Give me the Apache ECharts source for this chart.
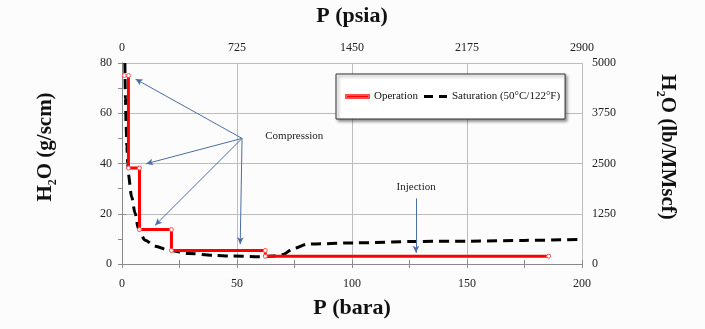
<!DOCTYPE html>
<html>
<head>
<meta charset="utf-8">
<script src="https://cdn.jsdelivr.net/npm/echarts@6/dist/echarts.min.js"></script>
<style>html,body{margin:0;padding:0;background:#fcfcfc;}#c{width:705px;height:329px;}</style>
</head>
<body>
<div id="c"></div>
<script>
// Operation (step profile)
const opP   = [1, 2.8, 2.8, 7.6, 7.6, 21.5, 21.5, 62.3, 62.3, 185.5];
const opH2O = [75, 75, 38.2, 38.2, 13.7, 13.7, 5.4, 5.4, 3.1, 3.1];
// Saturation curve (50°C/122°F)
const satP   = [1.25, 1.5, 1.8, 2.1, 2.5, 2.7, 4.2, 5.7, 7.1, 10, 14.4, 20.2, 28.9, 40.5, 47, 61.6, 66, 70, 74.6, 80.5, 100.7, 128.4, 151.6, 175, 200];
const satH2O = [80, 66, 55, 47, 40, 36, 26.7, 20.2, 14.1, 9.5, 7.1, 5.5, 4.2, 3.4, 3.2, 2.9, 3.2, 3.8, 6.2, 7.9, 8.4, 9.0, 9.1, 9.4, 9.8];
// Axis ticks
const barTicks = {min: 0, max: 200, interval: 50};
const psiaTicks = {min: 0, max: 2900, interval: 725};
const gTicks = {min: 0, max: 80, interval: 20};
const lbTicks = {min: 0, max: 5000, interval: 1250};
// Annotations
const compressionFrom = [52.2, 50];
const compressionTo = [[5.9, 73.6], [10.5, 39.9], [14.4, 15.4], [51.4, 7.9]];
const injectionFrom = [127.8, 26.1];
const injectionTo = [127.8, 4.5];
const annotationTexts = [{name: 'Compression', coord: [74.9, 50.8]}, {name: 'Injection', coord: [127.9, 30.6]}];

const serif = '"Liberation Serif", "DejaVu Serif", serif';
const axisLineStyle = {lineStyle: {color: '#8a8a8a', width: 1}};
const labelStyle = {fontFamily: serif, fontSize: 12, color: '#222', formatter: v => String(v)};
const gridLine = {show: true, lineStyle: {color: '#bdbdbd', width: 1}};
const tickStyle = {show: true, length: 4, lineStyle: {color: '#8a8a8a'}};
const minorTickStyle = {show: true, splitNumber: 2, length: 4, lineStyle: {color: '#8a8a8a'}};

const chart = echarts.init(document.getElementById('c'));
const arrowData = compressionTo.map(t => [{coord: compressionFrom}, {coord: t}]);
arrowData.push([{coord: injectionFrom}, {coord: injectionTo}]);

const titleRich = {
  m: {fontFamily: serif, fontSize: 21, fontWeight: 'bold', fill: '#111', lineHeight: 24, verticalAlign: 'top'},
  s: {fontFamily: serif, fontSize: 12, fontWeight: 'bold', fill: '#111', lineHeight: 12, verticalAlign: 'bottom'}
};

chart.setOption({
  animation: false,
  backgroundColor: '#fcfcfc',
  grid: {left: 122, right: 123, top: 62, bottom: 65},
  legend: {
    left: 336, top: 74,
    padding: [17, 5, 17, 9],
    itemGap: 6, itemWidth: 23, itemHeight: 3,
    backgroundColor: '#fff', borderColor: '#333', borderWidth: 1,
    shadowColor: 'rgba(0,0,0,0.45)', shadowBlur: 3, shadowOffsetX: 2, shadowOffsetY: 2,
    textStyle: {fontFamily: serif, fontSize: 11, color: '#111'},
    data: [
      {name: 'Operation', icon: 'rect', itemStyle: {color: '#ff0000'}},
      {name: 'Saturation (50°C/122°F)', icon: 'path://M0,0h9v3h-9z M15,0h8v3h-8z', itemStyle: {color: '#000'}}
    ]
  },
  xAxis: [
    {type: 'value', position: 'bottom', min: barTicks.min, max: barTicks.max, interval: barTicks.interval,
     name: 'P (bara)', nameLocation: 'middle', nameGap: 33,
     nameTextStyle: {fontFamily: serif, fontSize: 22, fontWeight: 'bold', color: '#111'},
     axisLine: axisLineStyle, axisTick: tickStyle, minorTick: minorTickStyle,
     axisLabel: Object.assign({margin: 14}, labelStyle), splitLine: gridLine},
    {type: 'value', position: 'top', min: psiaTicks.min, max: psiaTicks.max, interval: psiaTicks.interval,
     name: 'P (psia)', nameLocation: 'middle', nameGap: 36,
     nameTextStyle: {fontFamily: serif, fontSize: 22, fontWeight: 'bold', color: '#111'},
     axisLine: axisLineStyle, axisTick: tickStyle, minorTick: minorTickStyle,
     axisLabel: Object.assign({margin: 9}, labelStyle), splitLine: {show: false}}
  ],
  yAxis: [
    {type: 'value', position: 'left', min: gTicks.min, max: gTicks.max, interval: gTicks.interval,
     axisLine: {show: true, lineStyle: {color: '#8a8a8a'}}, axisTick: tickStyle, minorTick: minorTickStyle,
     axisLabel: Object.assign({margin: 10}, labelStyle), splitLine: gridLine},
    {type: 'value', position: 'right', min: lbTicks.min, max: lbTicks.max, interval: lbTicks.interval,
     axisLine: {show: true, lineStyle: {color: '#8a8a8a'}}, axisTick: tickStyle,
     axisLabel: Object.assign({margin: 10}, labelStyle), splitLine: {show: false}}
  ],
  graphic: [
    {type: 'text', x: 47, y: 147, rotation: Math.PI / 2,
     style: {text: '{m|H}{s|2}{m|O (g/scm)}', align: 'center', verticalAlign: 'middle', rich: titleRich}},
    {type: 'text', x: 666, y: 147, rotation: -Math.PI / 2,
     style: {text: '{m|H}{s|2}{m|O (lb/MMscf)}', align: 'center', verticalAlign: 'middle', rich: titleRich}}
  ],
  series: [
    {name: 'Saturation (50°C/122°F)', type: 'line', xAxisIndex: 0, yAxisIndex: 0,
     data: satP.map((p, i) => [p, satH2O[i]]),
     showSymbol: false, symbol: 'none', smooth: 0.3, smoothMonotone: 'x',
     itemStyle: {color: '#000'},
     lineStyle: {color: '#000', width: 3, type: [10, 6], cap: 'butt'},
     z: 3,
     markPoint: {symbol: 'circle', symbolSize: 0, silent: true,
       label: {show: true, position: 'inside', formatter: '{b}', fontFamily: serif, fontSize: 11, color: '#222'},
       data: annotationTexts}},
    {name: 'Operation', type: 'line', xAxisIndex: 0, yAxisIndex: 0,
     data: opP.map((p, i) => [p, opH2O[i]]),
     symbol: 'circle', symbolSize: 4, showSymbol: true,
     itemStyle: {color: '#fff', borderColor: '#ff5050', borderWidth: 1},
     lineStyle: {color: '#ff0000', width: 3},
     z: 4,
     markLine: {silent: true, symbol: ['none', 'arrow'], symbolSize: [5, 7],
       lineStyle: {color: '#4a6fa5', width: 1, type: 'solid'},
       label: {show: false}, data: arrowData}}
  ]
});
</script>
</body>
</html>
